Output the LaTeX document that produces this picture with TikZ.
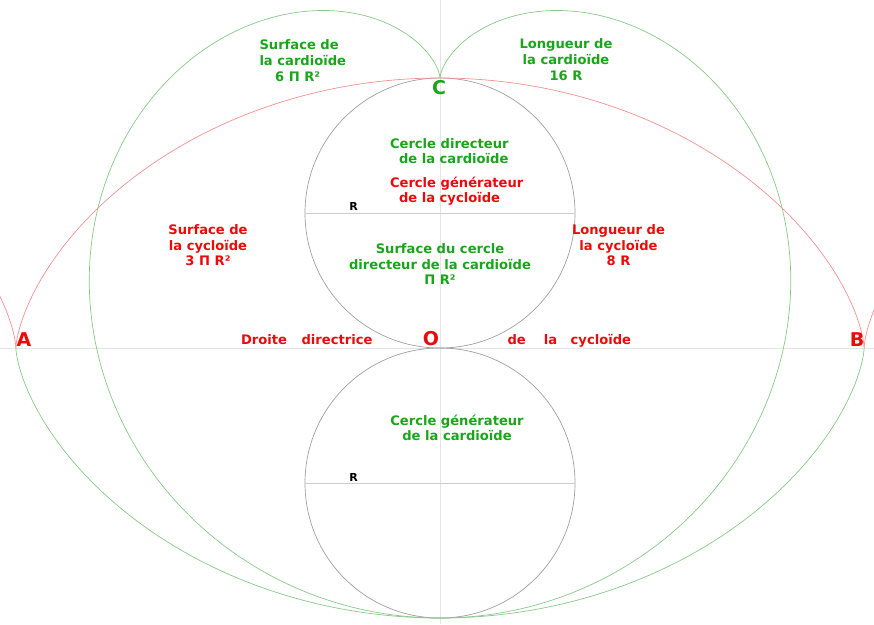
\documentclass[tikz,border=0pt]{standalone}
\usepackage{fontspec}
\setmainfont{DejaVu Sans}
\definecolor{tgreen}{RGB}{25,165,25}
\definecolor{tred}{RGB}{235,10,10}
\definecolor{cgreen}{RGB}{135,200,135}
\definecolor{cred}{RGB}{245,145,145}
\definecolor{cgray}{RGB}{160,160,160}
\definecolor{agray}{RGB}{228,228,228}
\definecolor{dgray}{RGB}{205,205,205}
\begin{document}
\begin{tikzpicture}[x=1pt,y=-1pt,
  lbl/.style={font=\bfseries\fontsize{13.1}{15.6}\selectfont, inner sep=0pt, outer sep=0pt},
  gtxt/.style={lbl,text=tgreen},
  rtxt/.style={lbl,text=tred},
  pointlbl/.style={font=\bfseries\fontsize{19}{19}\selectfont, inner sep=0pt},
  rlbl/.style={font=\bfseries\fontsize{11}{11}\selectfont, inner sep=0pt, text=black},
  axisline/.style={draw=agray, line width=0.8pt},
  circline/.style={draw=cgray, line width=0.7pt},
  diamline/.style={draw=dgray, line width=0.8pt},
  cardio/.style={draw=cgreen, line width=0.7pt},
  cyclo/.style={draw=cred, line width=0.7pt},
]
\useasboundingbox (0,0) rectangle (874,624);
\clip (0,0) rectangle (874,624);
% key points
\coordinate (O) at (440,348);
\coordinate (Ctop) at (440,78);
\coordinate (U) at (440,213);
\coordinate (L) at (440,483);
\coordinate (axW) at (0,348);
\coordinate (axE) at (874,348);
\coordinate (axN) at (440,0);
\coordinate (axS) at (440,624);
\coordinate (UW) at (305,213);
\coordinate (UE) at (575,213);
\coordinate (LW) at (305,483);
\coordinate (LE) at (575,483);
% axes
\draw[axisline] (axW) -- (axE);
\draw[axisline] (axN) -- (axS);
% circles and diameters
\draw[circline] (U) circle[radius=135];
\draw[circline] (L) circle[radius=135];
\draw[diamline] (UW) -- (UE);
\draw[diamline] (LW) -- (LE);
% cardioid
\draw[cardio] plot[domain=0:360, samples=361, smooth, variable=\t]
  ({440+270*(1-cos(\t))*sin(\t)}, {78-270*(1-cos(\t))*cos(\t)});
% reflected cycloid (green)
\draw[cardio] plot[domain=0:360, samples=241, smooth, variable=\t]
  ({440-135*pi+135*(rad(\t)-sin(\t))}, {348+135*(1-cos(\t))});
% cycloid (red)
\draw[cyclo] plot[domain=-60:0, samples=31, smooth, variable=\t]
  ({440-135*pi+135*(rad(\t)-sin(\t))}, {348-135*(1-cos(\t))});
\draw[cyclo] plot[domain=0:360, samples=241, smooth, variable=\t]
  ({440-135*pi+135*(rad(\t)-sin(\t))}, {348-135*(1-cos(\t))});
\draw[cyclo] plot[domain=360:420, samples=31, smooth, variable=\t]
  ({440-135*pi+135*(rad(\t)-sin(\t))}, {348-135*(1-cos(\t))});
% labels
\node[gtxt, align=left, anchor=west] (surfcard) at (259.5,60.7) {Surface de\\la cardioïde\\\hspace*{15.6pt}6 Π R²};
\node[gtxt, align=center] (longcard) at (566,59.7) {Longueur de\\la cardioïde\\16 R};
\node[gtxt, align=left, anchor=west] (cercdir) at (390,151.3) {Cercle directeur\\\hspace*{9pt}de la cardioïde};
\node[rtxt, align=left, anchor=west] (cercgen) at (390,191) {Cercle générateur\\\hspace*{9pt}de la cycloïde};
\node[gtxt, align=center] (surfcerc) at (440,264.1) {Surface du cercle\\directeur de la cardioïde\\Π R²};
\node[rtxt, align=center] (surfcyc) at (208,245.3) {Surface de\\la cycloïde\\3 Π R²};
\node[rtxt, align=center] (longcyc) at (618.5,245.3) {Longueur de\\la cycloïde\\8 R};
\node[gtxt, align=center] (cercgencard) at (457,427.7) {Cercle générateur\\de la cardioïde};
\node[rtxt, anchor=base west] (droite) at (241,344.3) {Droite\hspace{14.6pt}directrice};
\node[rtxt, anchor=base west] (delacyc) at (507.5,344.3) {de\hspace{18pt}la\hspace{13.6pt}cycloïde};
\node[pointlbl, text=tred] (A) at (24,340) {A};
\node[pointlbl, text=tred] (B) at (857,339.5) {B};
\node[pointlbl, text=tgreen] (C) at (439,87.5) {C};
\node[pointlbl, text=tred] (Olbl) at (431,338.5) {O};
\node[rlbl] (Ru) at (353.5,206) {R};
\node[rlbl] (Rl) at (353.5,477) {R};
\end{tikzpicture}
\end{document}
